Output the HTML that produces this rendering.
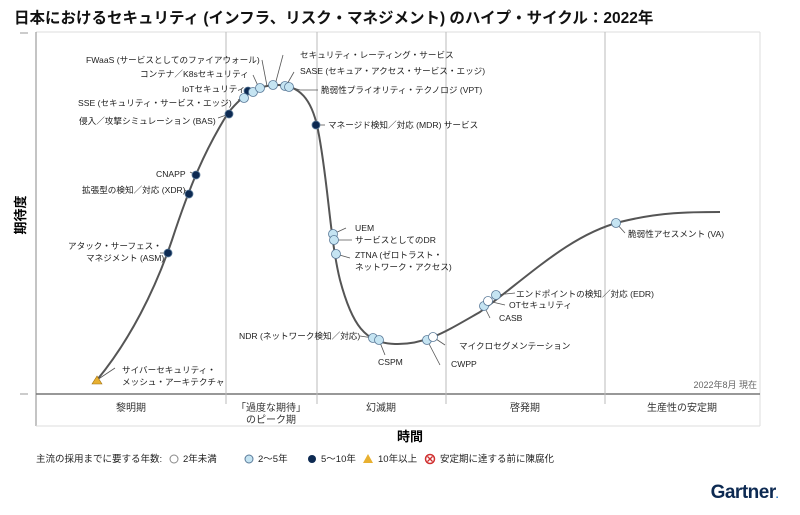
<!DOCTYPE html>
<html><head><meta charset="utf-8"><style>
body{margin:0;background:#fff;width:800px;height:510px;overflow:hidden;font-family:"Liberation Sans","Noto Sans CJK JP",sans-serif;}
</style></head><body>
<svg width="800" height="510" xmlns="http://www.w3.org/2000/svg" font-family="Liberation Sans, Noto Sans CJK JP, sans-serif">
<text x="14" y="23" font-size="15.5" font-weight="bold" fill="#111">日本におけるセキュリティ (インフラ、リスク・マネジメント) のハイプ・サイクル：2022年</text>
<line x1="36" y1="32" x2="760" y2="32" stroke="#ddd"/>
<line x1="36" y1="32" x2="36" y2="426" stroke="#888"/>
<line x1="760" y1="32" x2="760" y2="426" stroke="#ddd"/>
<line x1="36" y1="426" x2="760" y2="426" stroke="#ddd"/>
<line x1="20" y1="33" x2="28" y2="33" stroke="#999"/>
<line x1="20" y1="394" x2="28" y2="394" stroke="#999"/>
<line x1="36" y1="394" x2="760" y2="394" stroke="#777" stroke-width="1.5"/>
<g stroke="#bbb">
<line x1="226" y1="32" x2="226" y2="404"/><line x1="317" y1="32" x2="317" y2="404"/><line x1="446" y1="32" x2="446" y2="404"/><line x1="605" y1="32" x2="605" y2="404"/>
</g>
<text x="25" y="215" font-size="13" font-weight="bold" transform="rotate(-90 25 215)" text-anchor="middle">期待度</text>
<g font-size="10" fill="#333" text-anchor="middle">
<text x="131" y="411">黎明期</text><text x="271" y="411">「過度な期待」</text><text x="271" y="423">のピーク期</text>
<text x="381" y="411">幻滅期</text><text x="525" y="411">啓発期</text><text x="682" y="411">生産性の安定期</text>
<text x="757" y="388" text-anchor="end" font-size="9" fill="#666">2022年8月 現在</text>
</g>
<text x="410" y="441" font-size="13" font-weight="bold" text-anchor="middle">時間</text>
<path d="M97,380 C130,340 155,290 172,240 C190,185 205,150 228,113 C245,92 258,86 275,85 C300,84 312,100 318,130 C328,180 330,240 340,280 C352,325 365,343 395,344 C425,345 445,332 480,312 C530,275 570,235 620,222 C660,212 690,212 720,212" fill="none" stroke="#555" stroke-width="2"/>
<g stroke="#555" stroke-width="0.8" fill="none">
<path d="M97,380 L115,368"/><path d="M168,253 L160,253"/><path d="M189,194 L185,190"/><path d="M196,175 L190,172"/>
<path d="M229,114 L218,118"/><path d="M244,97 L238,100"/><path d="M253,92 L246,88"/><path d="M259,88 L253,75"/><path d="M267,86 L262,60"/>
<path d="M275,85 L283,55"/><path d="M286,86 L294,72"/><path d="M290,87 L300,90 L318,90"/><path d="M316,125 L325,125"/>
<path d="M333,234 L346,228"/><path d="M334,240 L352,240"/><path d="M336,254 L350,258"/><path d="M373,338 L360,336"/><path d="M379,340 L385,355"/>
<path d="M433,337 L445,345"/><path d="M427,340 L440,365"/><path d="M484,306 L490,318"/><path d="M488,301 L505,305"/><path d="M496,295 L515,293"/><path d="M616,223 L625,233"/>
</g>
<g stroke="#5a7a99" stroke-width="0.8">
<circle cx="168" cy="253" r="4" fill="#0d2a52"/><circle cx="189" cy="194" r="4" fill="#0d2a52"/><circle cx="196" cy="175" r="4" fill="#0d2a52"/>
<circle cx="229" cy="114" r="4" fill="#0d2a52"/><circle cx="248" cy="91" r="4" fill="#0d2a52"/><circle cx="316" cy="125" r="4" fill="#0d2a52"/>
<g fill="#c5e4f2"><circle cx="244" cy="98" r="4.5"/><circle cx="253" cy="92" r="4.5"/><circle cx="260" cy="88" r="4.5"/><circle cx="273" cy="85" r="4.5"/><circle cx="285" cy="86" r="4.5"/><circle cx="289" cy="87" r="4.5"/>
<circle cx="333" cy="234" r="4.5"/><circle cx="334" cy="240" r="4.5"/><circle cx="336" cy="254" r="4.5"/><circle cx="373" cy="338" r="4.5"/><circle cx="379" cy="340" r="4.5"/>
<circle cx="427" cy="340" r="4.5"/><circle cx="484" cy="306" r="4.5"/><circle cx="496" cy="295" r="4.5"/><circle cx="616" cy="223" r="4.5"/></g>
<circle cx="433" cy="337" r="4.5" fill="#fff"/><circle cx="488" cy="301" r="4.5" fill="#fff"/>
</g>
<polygon points="97,376 92,384 102,384" fill="#e8b030" stroke="#a07010" stroke-width="0.6"/>
<g font-size="8.6" fill="#222">
<text x="86" y="63">FWaaS (サービスとしてのファイアウォール)</text>
<text x="140" y="77">コンテナ／K8sセキュリティ</text>
<text x="182" y="92">IoTセキュリティ</text>
<text x="78" y="106">SSE (セキュリティ・サービス・エッジ)</text>
<text x="79" y="124">侵入／攻撃シミュレーション (BAS)</text>
<text x="156" y="177">CNAPP</text>
<text x="82" y="193">拡張型の検知／対応 (XDR)</text>
<text x="68" y="249">アタック・サーフェス・</text><text x="86" y="261">マネジメント (ASM)</text>
<text x="122" y="373">サイバーセキュリティ・</text><text x="122" y="385">メッシュ・アーキテクチャ</text>
<text x="300" y="58">セキュリティ・レーティング・サービス</text>
<text x="300" y="74">SASE (セキュア・アクセス・サービス・エッジ)</text>
<text x="321" y="93">脆弱性プライオリティ・テクノロジ (VPT)</text>
<text x="328" y="128">マネージド検知／対応 (MDR) サービス</text>
<text x="355" y="231">UEM</text><text x="355" y="243">サービスとしてのDR</text>
<text x="355" y="258">ZTNA (ゼロトラスト・</text><text x="355" y="270">ネットワーク・アクセス)</text>
<text x="239" y="339">NDR (ネットワーク検知／対応)</text>
<text x="378" y="365">CSPM</text>
<text x="459" y="349">マイクロセグメンテーション</text>
<text x="451" y="367">CWPP</text>
<text x="499" y="321">CASB</text>
<text x="509" y="308">OTセキュリティ</text>
<text x="516" y="297">エンドポイントの検知／対応 (EDR)</text>
<text x="628" y="237">脆弱性アセスメント (VA)</text>
</g>
<g font-size="9.5" fill="#222">
<text x="36" y="462">主流の採用までに要する年数:</text>
<circle cx="174" cy="459" r="4" fill="#fff" stroke="#888"/><text x="183" y="462">2年未満</text>
<circle cx="249" cy="459" r="4" fill="#c5e4f2" stroke="#5a7a99"/><text x="258" y="462">2～5年</text>
<circle cx="312" cy="459" r="4" fill="#0d2a52"/><text x="321" y="462">5～10年</text>
<polygon points="368,454 363,463 373,463" fill="#e8b030"/><text x="378" y="462">10年以上</text>
<circle cx="430" cy="459" r="4.5" fill="#fff" stroke="#d03030" stroke-width="1.5"/><path d="M427.5,456.5 L432.5,461.5 M432.5,456.5 L427.5,461.5" stroke="#d03030" stroke-width="1.3"/>
<text x="440" y="462">安定期に達する前に陳腐化</text>
</g>
<text x="778" y="498" font-size="19" font-weight="bold" fill="#0d2a52" text-anchor="end" letter-spacing="-0.5">Gartner<tspan fill="#1a6fbd" font-size="10">.</tspan></text>
</svg>
</body></html>
